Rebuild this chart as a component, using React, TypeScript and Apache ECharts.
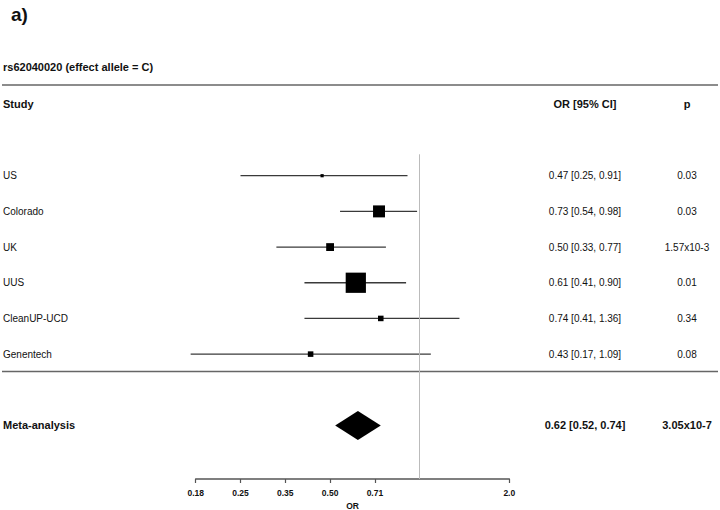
import React, { useEffect, useRef } from "react";
import * as echarts from "echarts";

const studies = ["US", "Colorado", "UK", "UUS", "CleanUP-UCD", "Genentech"];
const orEst = [0.47, 0.73, 0.5, 0.61, 0.74, 0.43];
const ciLow = [0.25, 0.54, 0.33, 0.41, 0.41, 0.17];
const ciHigh = [0.91, 0.98, 0.77, 0.9, 1.36, 1.09];
const pValues = ["0.03", "0.03", "1.57x10-3", "0.01", "0.34", "0.08"];
// relative study weights (box area)
const weights = [1, 14, 6, 40, 3, 3];

const metaName = "Meta-analysis";
const metaEst = 0.62;
const metaLow = 0.52;
const metaHigh = 0.74;
const metaP = "3.05x10-7";

// axis ticks on log2 scale
const tickExps = [-2.5, -2, -1.5, -1, -0.5, 1];
const tickLabels = ["0.18", "0.25", "0.35", "0.50", "0.71", "2.0"];

const FONT = "'Liberation Sans', Arial, sans-serif";
const log2 = (v: number) => Math.log(v) / Math.LN2;
const fmt = (e: number, l: number, h: number) =>
  `${e.toFixed(2)} [${l.toFixed(2)}, ${h.toFixed(2)}]`;

const META_ROW = studies.length + 2;
const X_NAME = 3;
const X_OR = 585;
const X_P = 687;

export default function App() {
  const ref = useRef<HTMLDivElement>(null);
  useEffect(() => {
    if (!ref.current) return;
    const chart = echarts.init(ref.current, undefined, { renderer: "svg" });

    const rowNames = [...studies, metaName];
    const rowOR = [
      ...studies.map((_, i) => fmt(orEst[i], ciLow[i], ciHigh[i])),
      fmt(metaEst, metaLow, metaHigh),
    ];
    const rowP = [...pValues, metaP];
    const rowIdx = [...studies.map((_, i) => i + 1), META_ROW];

    const option: any = {
      animation: false,
      backgroundColor: "#ffffff",
      grid: {
        left: 195.7,
        right: 210.7,
        top: 154.3,
        bottom: 31,
        containLabel: false,
        outerBoundsMode: "none",
      },
      xAxis: {
        type: "value",
        min: -2.5,
        max: 1,
        interval: 0.5,
        splitLine: { show: false },
        axisLine: { show: true, onZero: false, lineStyle: { color: "#555", width: 1.5 } },
        axisTick: {
          show: true,
          customValues: tickExps,
          length: 4,
          lineStyle: { color: "#555", width: 1.2 },
        },
        axisLabel: {
          customValues: tickExps,
          formatter: (v: number) => {
            const k = tickExps.findIndex((t) => Math.abs(t - v) < 1e-6);
            return k >= 0 ? tickLabels[k] : "";
          },
          margin: 9,
          fontFamily: FONT,
          fontWeight: "bold",
          fontSize: 8.5,
          color: "#111",
        },
        name: "OR",
        nameLocation: "middle",
        nameGap: 15,
        nameTextStyle: { fontFamily: FONT, fontWeight: "bold", fontSize: 8.5, color: "#111" },
      },
      yAxis: { type: "value", min: 0.4, max: 9.5, inverse: true, show: false },
      graphic: [
        {
          type: "text",
          left: 11,
          top: 5,
          style: { text: "a)", font: `bold 19px ${FONT}`, fill: "#111" },
        },
        {
          type: "text",
          x: 3,
          y: 67,
          style: {
            text: "rs62040020 (effect allele = C)",
            font: `bold 11px ${FONT}`,
            fill: "#111",
            verticalAlign: "middle",
          },
        },
        {
          type: "line",
          shape: { x1: 2, y1: 85, x2: 718, y2: 85 },
          style: { stroke: "#666", lineWidth: 1.5 },
        },
        {
          type: "text",
          x: 3,
          y: 103.5,
          style: { text: "Study", font: `bold 11px ${FONT}`, fill: "#111", verticalAlign: "middle" },
        },
        {
          type: "text",
          x: X_OR,
          y: 104,
          style: {
            text: "OR [95% CI]",
            font: `bold 11px ${FONT}`,
            fill: "#111",
            align: "center",
            verticalAlign: "middle",
          },
        },
        {
          type: "text",
          x: X_P,
          y: 104,
          style: {
            text: "p",
            font: `bold 11px ${FONT}`,
            fill: "#111",
            align: "center",
            verticalAlign: "middle",
          },
        },
        {
          type: "line",
          shape: { x1: 2, y1: 371.5, x2: 718, y2: 371.5 },
          style: { stroke: "#666", lineWidth: 1.5 },
        },
      ],
      series: [
        {
          type: "custom",
          name: "ci",
          clip: false,
          encode: { x: [0, 1], y: 2 },
          data: studies.map((_, i) => [log2(ciLow[i]), log2(ciHigh[i]), i + 1]),
          renderItem: (params: any, api: any) => {
            const y = api.value(2);
            const p1 = api.coord([api.value(0), y]);
            const p2 = api.coord([api.value(1), y]);
            return {
              type: "line",
              shape: { x1: p1[0], y1: p1[1], x2: p2[0], y2: p2[1] },
              style: { stroke: "#3a3a3a", lineWidth: 1.3 },
            };
          },
          markLine: {
            silent: true,
            symbol: "none",
            label: { show: false },
            lineStyle: { color: "#bbb", width: 1, type: "solid" },
            data: [{ xAxis: 0 }],
          },
          z: 2,
        },
        {
          type: "scatter",
          name: "est",
          symbol: "rect",
          data: studies.map((_, i) => ({
            value: [log2(orEst[i]), i + 1],
            symbolSize: 3.2 * Math.sqrt(weights[i]),
          })),
          itemStyle: { color: "#000", opacity: 1 },
          z: 3,
        },
        {
          type: "custom",
          name: "meta",
          clip: false,
          encode: { x: [0, 1, 2], y: 3 },
          data: [[log2(metaLow), log2(metaEst), log2(metaHigh), META_ROW]],
          renderItem: (params: any, api: any) => {
            const y = api.value(3);
            const l = api.coord([api.value(0), y]);
            const c = api.coord([api.value(1), y]);
            const r = api.coord([api.value(2), y]);
            const h = 14.5;
            return {
              type: "polygon",
              shape: {
                points: [
                  [l[0], l[1]],
                  [c[0], c[1] - h],
                  [r[0], r[1]],
                  [c[0], c[1] + h],
                ],
              },
              style: { fill: "#000" },
            };
          },
          z: 3,
        },
        {
          type: "custom",
          name: "texts",
          clip: false,
          encode: { x: 0, y: 1 },
          data: rowIdx.map((r) => [0, r]),
          renderItem: (params: any, api: any) => {
            const i = params.dataIndex;
            const y = api.coord([0, api.value(1)])[1];
            const isMeta = i === rowNames.length - 1;
            const font = isMeta ? `bold 11px ${FONT}` : `10px ${FONT}`;
            return {
              type: "group",
              children: [
                {
                  type: "text",
                  x: X_NAME,
                  y,
                  style: { text: rowNames[i], font, fill: "#111", align: "left", verticalAlign: "middle" },
                },
                {
                  type: "text",
                  x: X_OR,
                  y,
                  style: { text: rowOR[i], font, fill: "#111", align: "center", verticalAlign: "middle" },
                },
                {
                  type: "text",
                  x: X_P,
                  y,
                  style: { text: rowP[i], font, fill: "#111", align: "center", verticalAlign: "middle" },
                },
              ],
            };
          },
          z: 4,
        },
      ],
    };
    chart.setOption(option);
    return () => chart.dispose();
  }, []);
  return (
    <div
      ref={ref}
      style={{ position: "fixed", left: 0, top: 0, width: 720, height: 510, background: "#fff" }}
    />
  );
}
